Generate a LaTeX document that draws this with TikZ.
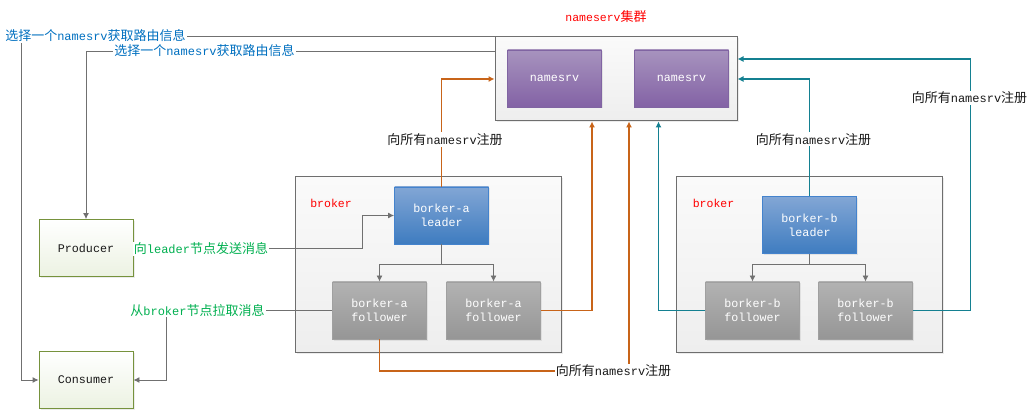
\documentclass[tikz,border=0pt]{standalone}
\usepackage{fontspec}
\setmonofont{Liberation Mono}
\newfontfamily\cjkfont{Noto Sans CJK SC}
\usetikzlibrary{arrows.meta,shadows}
\newcommand\zh[1]{{\cjkfont\fontsize{13}{15}\selectfont #1}}
\definecolor{gline}{RGB}{112,112,112}
\definecolor{oline}{RGB}{200,100,25}
\definecolor{tline}{RGB}{20,128,145}
\definecolor{bluetxt}{RGB}{0,112,192}
\definecolor{greentxt}{RGB}{0,176,80}
\definecolor{redtxt}{RGB}{255,0,0}
\definecolor{blktxt}{RGB}{25,25,25}
\definecolor{nstop}{RGB}{167,147,190}
\definecolor{nsbot}{RGB}{131,98,165}
\definecolor{nsbd}{RGB}{128,100,162}
\definecolor{ldtop}{RGB}{130,166,213}
\definecolor{ldbot}{RGB}{62,124,192}
\definecolor{ldbd}{RGB}{68,131,205}
\definecolor{fwtop}{RGB}{178,178,178}
\definecolor{fwbot}{RGB}{150,150,150}
\definecolor{fwbd}{RGB}{160,160,160}
\definecolor{cltop}{RGB}{255,255,255}
\definecolor{clbot}{RGB}{236,242,226}
\definecolor{clbd}{RGB}{118,146,60}
\definecolor{cttop}{RGB}{250,250,250}
\definecolor{ctbot}{RGB}{238,238,238}
\definecolor{ctbd}{RGB}{110,110,110}
\begin{document}
\begin{tikzpicture}[x=1pt,y=-1pt,
  >={Latex[length=6pt,width=6pt]},
  shad/.style={drop shadow={shadow xshift=1.5pt,shadow yshift=-1.5pt,opacity=0.15,fill=gray}},
  container/.style={shad,draw=ctbd,line width=1pt,top color=cttop,bottom color=ctbot,inner sep=0pt},
  boxbase/.style={shad,line width=0.9pt,inner sep=0pt,minimum width=94pt,minimum height=57pt,
    align=center,text=white,font=\ttfamily\fontsize{11.7}{14.5}\selectfont},
  nsbox/.style={boxbase,draw=nsbd,top color=nstop,bottom color=nsbot},
  leaderbox/.style={boxbase,draw=ldbd,top color=ldtop,bottom color=ldbot},
  followbox/.style={boxbase,draw=fwbd,top color=fwtop,bottom color=fwbot},
  clientbox/.style={boxbase,draw=clbd,top color=cltop,bottom color=clbot,text=blktxt},
  lbl/.style={fill=white,inner sep=1pt,font=\ttfamily\fontsize{12}{13}\selectfont},
  bluelbl/.style={lbl,text=bluetxt},
  greenlbl/.style={lbl,text=greentxt},
  blklbl/.style={lbl,text=blktxt},
  redlbl/.style={inner sep=1pt,text=redtxt,font=\ttfamily\fontsize{11.5}{13}\selectfont},
  gconn/.style={draw=gline,line width=0.9pt},
  oconn/.style={draw=oline,line width=1.1pt},
  tconn/.style={draw=tline,line width=1.1pt}
]
\useasboundingbox[fill=white] (0,0) rectangle (1030,411);

% containers
\node[container,minimum width=242pt,minimum height=84pt] (cl) at (616,79) {};
\node[container,minimum width=266pt,minimum height=175pt] (ba) at (428,264.5) {};
\node[container,minimum width=266pt,minimum height=175pt] (bb) at (809,264.5) {};

\node[redlbl] (cltitle) at (606,17) {nameserv\zh{集群}};
\node[redlbl] (batitle) at (331,203) {broker};
\node[redlbl] (bbtitle) at (713.5,203) {broker};

% inner boxes
\node[nsbox] (ns1) at (554.5,78.5) {namesrv};
\node[nsbox] (ns2) at (681.5,78.5) {namesrv};
\node[leaderbox] (aL) at (441.5,215.5) {borker-a\\leader};
\node[followbox] (aF1) at (379.5,310.5) {borker-a\\follower};
\node[followbox] (aF2) at (493.5,310.5) {borker-a\\follower};
\node[leaderbox] (bL) at (809.5,225.3) {borker-b\\leader};
\node[followbox] (bF1) at (752.5,310.5) {borker-b\\follower};
\node[followbox] (bF2) at (865.5,310.5) {borker-b\\follower};
\node[clientbox] (prod) at (86,248) {Producer};
\node[clientbox] (cons) at (86,380) {Consumer};

% helper coordinates
\coordinate (c1) at ([xshift=41pt]cl.north west);
\coordinate (c2) at ([yshift=28pt]cl.west);
\coordinate (cb1) at ([xshift=-24pt]cl.south);
\coordinate (cb2) at ([xshift=13pt]cl.south);
\coordinate (cb3) at ([xshift=42.5pt]cl.south);
\coordinate (ce1) at ([yshift=20pt]cl.east);
\coordinate (j5) at (629,371);
\coordinate (j10) at (166,310.5);

% connectors gray
\draw[gconn,->] (c1) -- (21,36.5) |- (cons.west);
\draw[gconn,->] (c2) -| (prod.north);
\draw[gconn,->] (prod.east) -- ++(229,0) |- (aL.west);
\draw[gconn,->] (aF1.west) -- (j10) |- (cons.east);
\draw[gconn] (aL.south) -- ++(0,20.5) coordinate (aj);
\draw[gconn,->] (aj) -| (aF1.north);
\draw[gconn,->] (aj) -| (aF2.north);
\draw[gconn] (bL.south) -- ++(0,10.7) coordinate (bj);
\draw[gconn,->] (bj) -| (bF1.north);
\draw[gconn,->] (bj) -| (bF2.north);

% orange
\draw[oconn,->] (aL.north) |- (cl.west);
\draw[oconn,->] (aF2.east) -| (cb1);
\draw[oconn,->] (aF1.south) |- (j5) -- (cb2);

% teal
\draw[tconn,->] (bF1.west) -| (cb3);
\draw[tconn,->] (bL.north) |- (cl.east);
\draw[tconn,->] (bF2.east) -- ++(57.5,0) |- (ce1);

% labels
\node[bluelbl] (l1) at (95.5,36) {\zh{选择一个}namesrv\zh{获取路由信息}};
\node[bluelbl] (l2) at (204.5,51) {\zh{选择一个}namesrv\zh{获取路由信息}};
\node[greenlbl] (l3) at (201,249) {\zh{向}leader\zh{节点发送消息}};
\node[greenlbl] (l4) at (197.5,310) {\zh{从}broker\zh{节点拉取消息}};
\node[blklbl] (l5) at (445,139.5) {\zh{向所有}namesrv\zh{注册}};
\node[blklbl] (l6) at (813.5,139.3) {\zh{向所有}namesrv\zh{注册}};
\node[blklbl] (l7) at (969.5,97.7) {\zh{向所有}namesrv\zh{注册}};
\node[blklbl] (l8) at (613.5,371) {\zh{向所有}namesrv\zh{注册}};
\end{tikzpicture}
\end{document}
